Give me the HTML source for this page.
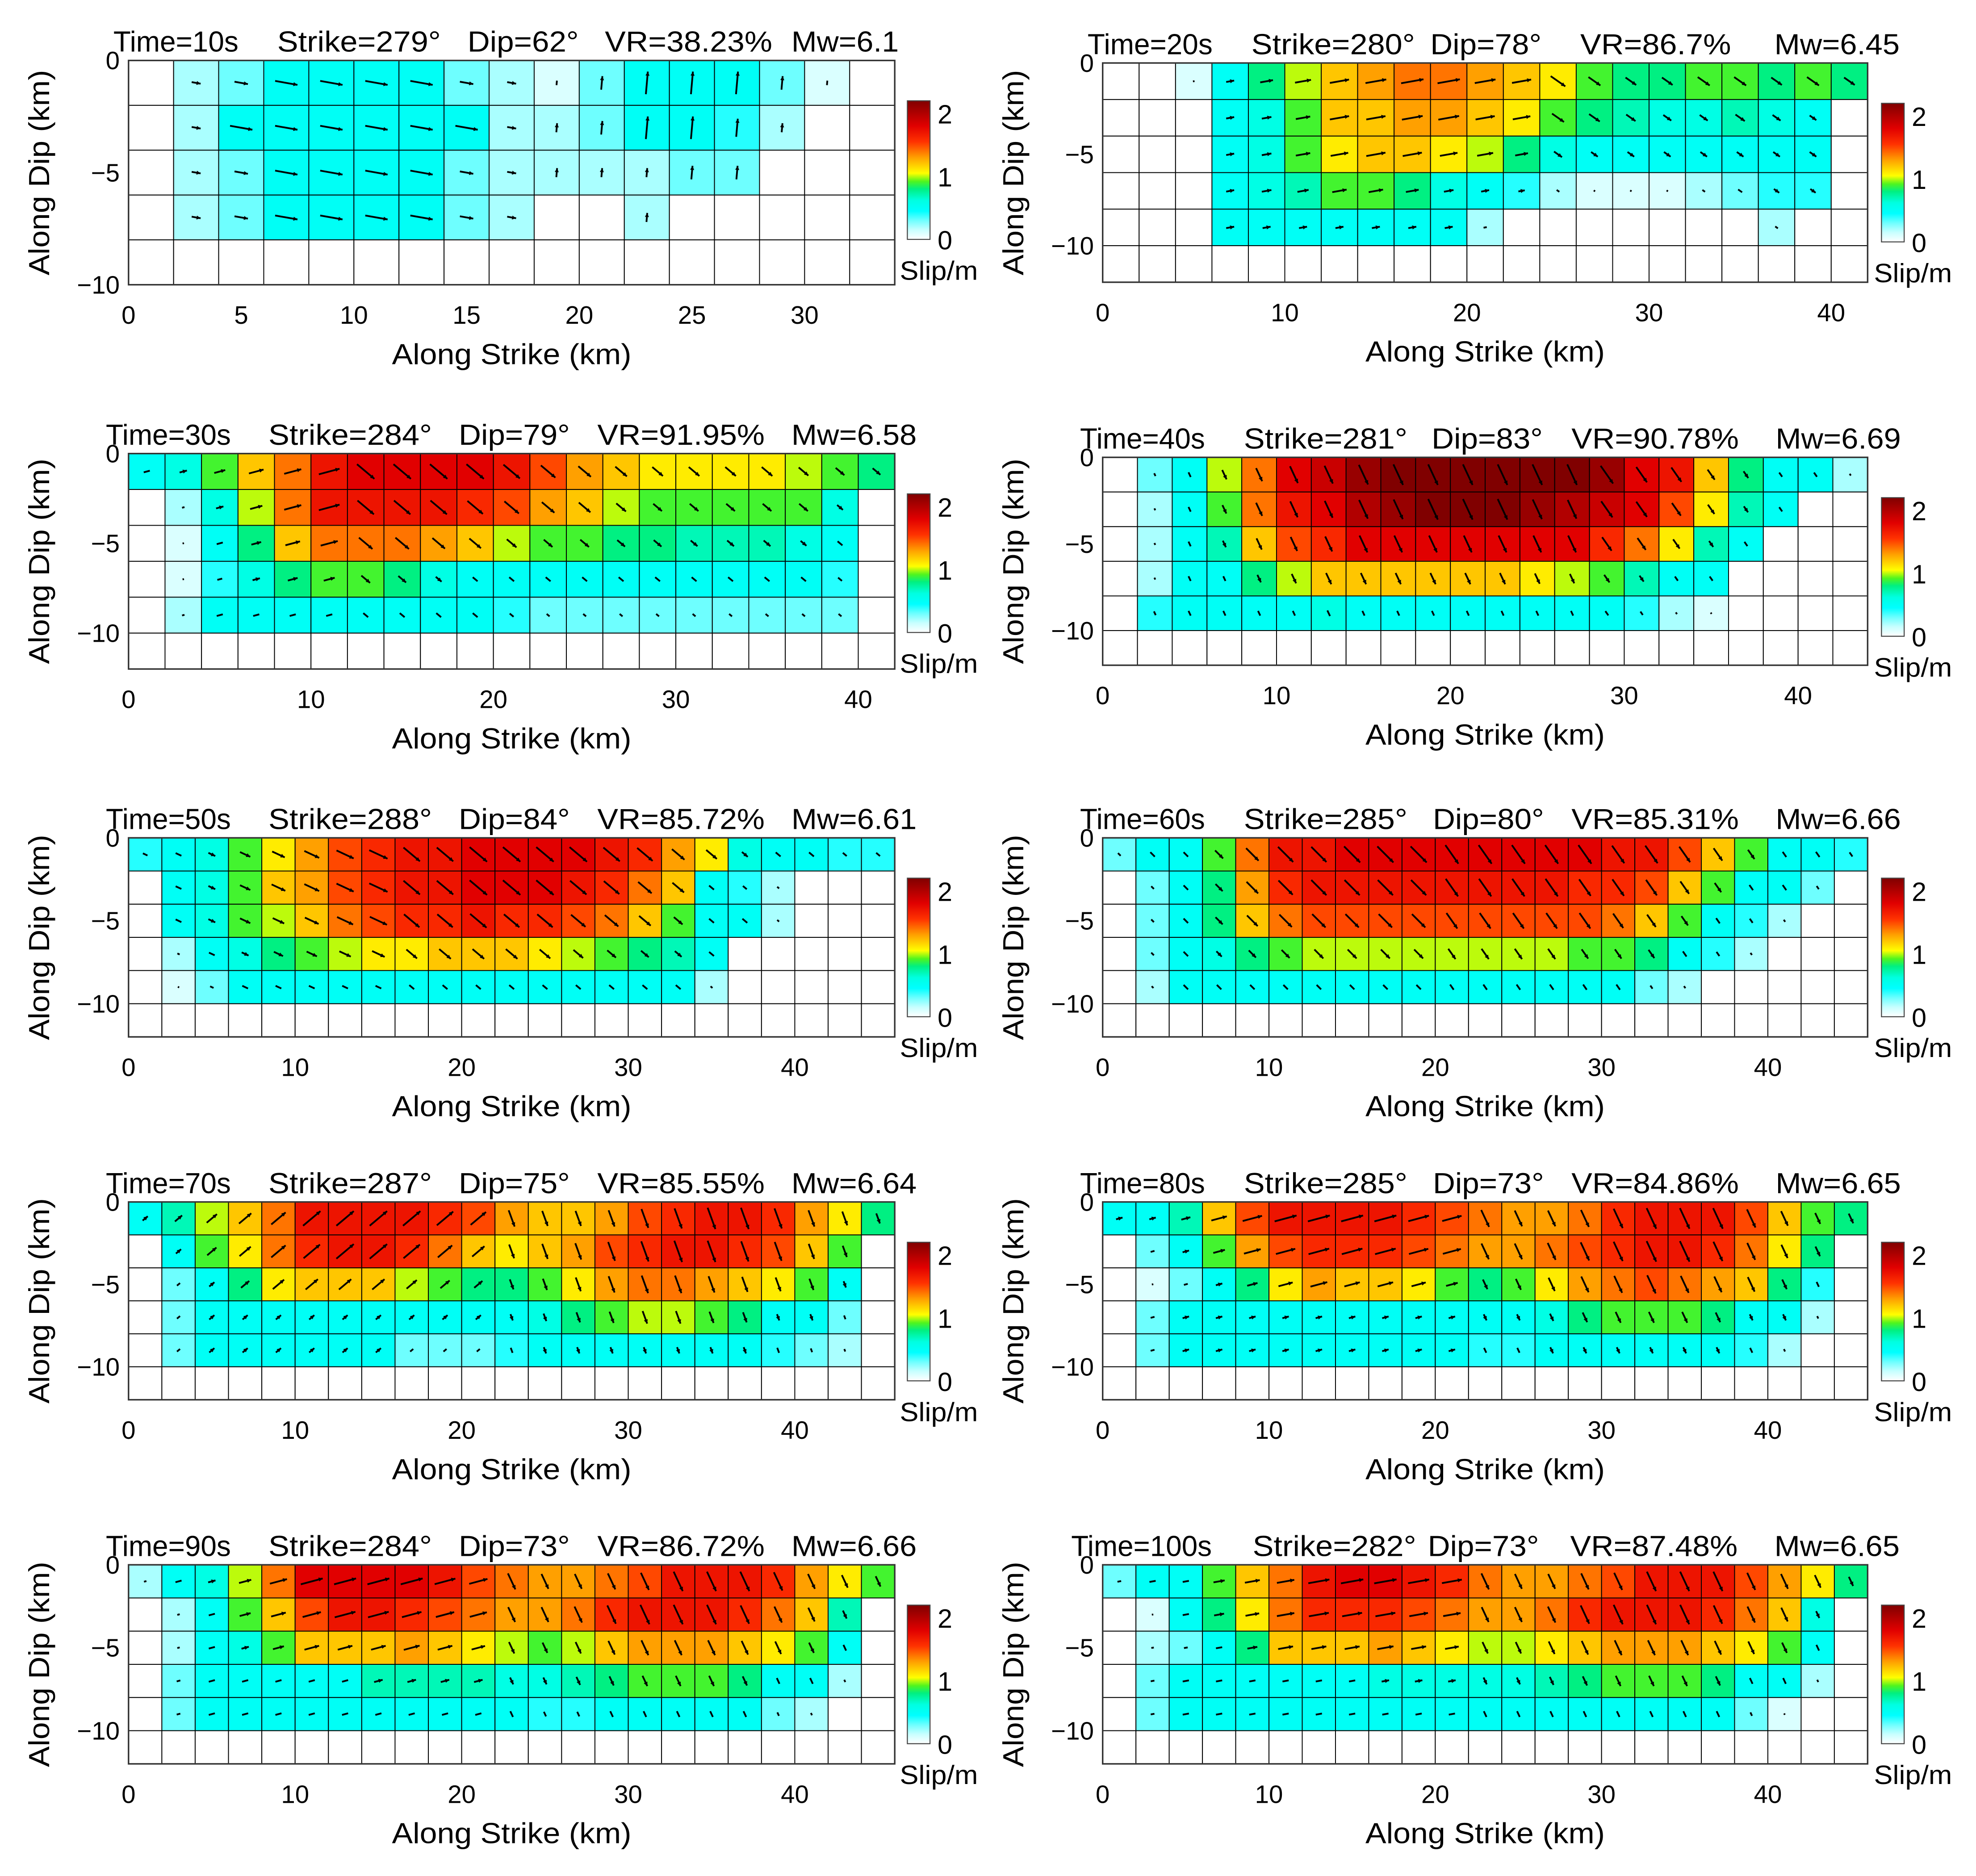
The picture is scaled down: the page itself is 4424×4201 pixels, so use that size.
<!DOCTYPE html>
<html><head><meta charset="utf-8"><style>
html,body{margin:0;padding:0;background:#fff}
svg{display:block}
text{font-family:"Liberation Sans","DejaVu Sans",sans-serif;fill:#000}
</style></head><body>
<svg id="fig" xmlns="http://www.w3.org/2000/svg" width="4424" height="4201" viewBox="0 0 1568 1489" preserveAspectRatio="none"></svg>
<script>
// ---- data: slip in tenths of metres, rows top (0 km) downward ----
const titles1 = ["Time=10s","Strike=279°","Dip=62°","VR=38.23%","Mw=6.1"];
const slip1 = [
[0,2,3,5,5,5,5,3,2,1,3,5,5,5,3,1,0],
[0,2,5,5,5,5,5,5,2,2,3,5,5,4,2,0,0],
[0,2,3,5,5,5,5,3,2,2,2,2,3,3,0,0,0],
[0,2,3,5,5,5,5,3,2,0,0,2,0,0,0,0,0],
[0,0,0,0,0,0,0,0,0,0,0,0,0,0,0,0,0]];
const rake1 = [-10, 85, 9];
const titles2 = ["Time=20s","Strike=280°","Dip=78°","VR=86.7%","Mw=6.45"];
const slip2 = [
[0,0,1,5,8,10,12,13,14,14,13,12,11,9,8,8,9,9,8,9,8],
[0,0,0,5,6,9,12,12,13,13,12,11,9,8,7,6,6,7,6,5,0],
[0,0,0,5,6,9,11,12,12,11,10,8,6,5,5,5,5,5,5,5,0],
[0,0,0,5,6,7,9,9,8,6,5,4,2,1,1,1,2,3,4,4,0],
[0,0,0,5,5,5,5,5,5,5,2,0,0,0,0,0,0,0,2,0,0],
[0,0,0,0,0,0,0,0,0,0,0,0,0,0,0,0,0,0,0,0,0]];
const rake2 = [10, -35, 12];
const titles3 = ["Time=30s","Strike=284°","Dip=79°","VR=91.95%","Mw=6.58"];
const slip3 = [
[5,6,9,12,14,17,18,18,18,18,17,15,13,12,11,11,11,11,10,9,8],
[0,2,6,10,14,17,17,17,17,16,15,13,12,10,9,9,9,9,9,6,0],
[0,1,5,8,12,14,14,14,13,12,10,9,9,8,8,7,7,7,6,5,0],
[0,1,4,6,8,9,9,8,6,5,5,5,5,5,5,5,5,5,5,4,0],
[0,2,5,5,5,5,5,5,5,5,4,3,3,3,3,3,3,3,3,3,0],
[0,0,0,0,0,0,0,0,0,0,0,0,0,0,0,0,0,0,0,0,0]];
const rake3 = [15, -40, 6];
const titles4 = ["Time=40s","Strike=281°","Dip=83°","VR=90.78%","Mw=6.69"];
const slip4 = [
[0,3,5,10,14,18,19,21,22,22,22,22,22,22,21,18,17,12,8,5,5,2],
[0,2,5,9,14,17,18,20,21,22,22,22,21,20,19,18,15,11,7,5,0,0],
[0,2,5,7,12,15,16,18,18,18,18,18,18,18,16,14,11,7,5,0,0,0],
[0,2,5,5,8,10,12,12,12,12,12,12,11,10,9,7,5,5,0,0,0,0],
[0,4,5,5,5,5,6,5,5,5,5,5,5,5,5,4,2,1,0,0,0,0],
[0,0,0,0,0,0,0,0,0,0,0,0,0,0,0,0,0,0,0,0,0,0]];
const rake4 = [-65, -55, 14];
const titles5 = ["Time=50s","Strike=288°","Dip=84°","VR=85.72%","Mw=6.61"];
const slip5 = [
[4,5,6,9,11,13,15,16,17,17,18,18,18,18,17,16,13,11,6,5,5,4,4],
[0,5,6,9,12,13,15,16,17,17,18,18,18,17,16,14,12,5,4,2,0,0,0],
[0,5,6,9,10,12,14,15,16,16,17,16,16,15,14,12,9,5,5,2,0,0,0],
[0,2,5,6,8,9,10,11,11,12,12,12,11,10,9,8,7,5,0,0,0,0,0],
[0,1,3,5,5,5,5,5,5,5,5,5,5,5,5,5,5,2,0,0,0,0,0],
[0,0,0,0,0,0,0,0,0,0,0,0,0,0,0,0,0,0,0,0,0,0,0]];
const rake5 = [-25, -40, 8];
const titles6 = ["Time=60s","Strike=285°","Dip=80°","VR=85.31%","Mw=6.66"];
const slip6 = [
[3,5,5,9,14,17,17,18,18,18,18,18,18,18,18,17,17,15,12,9,5,5,4],
[0,3,5,8,13,16,17,17,17,17,17,17,17,17,16,16,15,12,9,5,5,3,0],
[0,3,5,8,12,14,15,15,15,15,15,15,15,15,15,14,12,9,5,4,2,0,0],
[0,3,5,6,8,9,10,10,10,10,10,10,10,10,9,9,8,5,4,2,0,0,0],
[0,2,5,5,5,5,5,5,5,5,5,5,5,5,5,5,3,2,0,0,0,0,0],
[0,0,0,0,0,0,0,0,0,0,0,0,0,0,0,0,0,0,0,0,0,0,0]];
const rake6 = [-45, -55, 10];
const titles7 = ["Time=70s","Strike=287°","Dip=75°","VR=85.55%","Mw=6.64"];
const slip7 = [
[5,7,10,12,14,17,17,17,17,16,15,13,12,12,13,15,16,17,17,16,13,11,8],
[0,5,9,11,14,16,17,17,16,14,12,11,12,13,15,16,17,17,16,15,12,9,0],
[0,3,5,8,11,12,12,12,10,9,8,8,9,11,13,14,14,13,12,11,9,5,0],
[0,3,5,5,5,5,5,5,5,5,5,5,6,8,9,10,10,9,8,5,5,3,0],
[0,3,5,5,5,5,5,5,3,3,3,4,5,5,5,5,5,5,5,4,3,2,0],
[0,0,0,0,0,0,0,0,0,0,0,0,0,0,0,0,0,0,0,0,0,0,0]];
const rake7 = [40, -70, 11];
const titles8 = ["Time=80s","Strike=285°","Dip=73°","VR=84.86%","Mw=6.65"];
const slip8 = [
[5,5,7,12,15,17,17,17,17,16,15,14,13,13,14,16,17,17,17,15,12,9,8],
[0,3,5,9,13,15,16,16,16,15,14,13,13,14,15,16,17,17,16,14,11,8,0],
[0,1,3,5,8,11,13,12,12,11,9,8,9,11,13,14,15,14,13,12,8,4,0],
[0,3,5,5,5,5,5,5,5,5,5,5,5,6,8,9,9,9,8,5,5,2,0],
[0,3,5,5,5,5,5,5,5,5,5,4,4,5,5,5,5,5,5,4,2,0,0],
[0,0,0,0,0,0,0,0,0,0,0,0,0,0,0,0,0,0,0,0,0,0,0]];
const rake8 = [15, -65, 11];
const titles9 = ["Time=90s","Strike=284°","Dip=73°","VR=86.72%","Mw=6.66"];
const slip9 = [
[2,5,6,10,14,18,18,18,18,17,15,14,13,13,14,15,17,17,17,16,13,11,9],
[0,2,5,9,12,15,17,17,16,15,14,13,13,14,16,17,17,17,16,14,12,7,0],
[0,2,5,6,9,12,12,12,13,12,11,10,9,10,12,13,13,13,12,11,9,5,0],
[0,3,5,5,5,5,5,7,7,7,7,6,6,7,8,9,9,9,8,5,5,2,0],
[0,3,5,5,5,5,5,5,5,5,5,5,4,4,5,5,5,5,5,3,2,0,0],
[0,0,0,0,0,0,0,0,0,0,0,0,0,0,0,0,0,0,0,0,0,0,0]];
const rake9 = [15, -65, 11];
const titles10 = ["Time=100s","Strike=282°","Dip=73°","VR=87.48%","Mw=6.65"];
const slip10 = [
[3,5,5,9,12,14,17,18,18,17,16,14,13,13,14,15,17,17,17,15,13,11,8],
[0,1,5,8,11,14,16,16,16,15,14,13,13,14,16,17,17,17,16,14,12,6,0],
[0,2,3,5,8,12,12,12,13,12,11,10,10,11,12,13,13,13,12,11,9,5,0],
[0,3,5,5,5,5,5,5,6,6,6,6,6,7,8,9,9,9,8,5,5,2,0],
[0,3,5,5,5,5,5,5,5,5,5,5,5,5,5,5,5,5,5,3,1,0,0],
[0,0,0,0,0,0,0,0,0,0,0,0,0,0,0,0,0,0,0,0,0,0,0]];
const rake10 = [10, -65, 11];
const xTicks1 = [0,5,10,15,20,25,30];
const xTicksN = [0,10,20,30,40];
const yTicks = [0,-5,-10];
const cbTicks = [0,1,2];

const NS="http://www.w3.org/2000/svg";
const svg=document.getElementById('fig');
function el(tag,attrs,parent){const e=document.createElementNS(NS,tag);for(const k in attrs)e.setAttribute(k,attrs[k]);(parent||svg).appendChild(e);return e;}
const panels=[
 {t:titles1,s:slip1,r:rake1,xt:xTicks1,x0:102,x1:710,km:34,y0:48,y1:226,dkm:10,tx:[90,220,371,480,628]},
 {t:titles2,s:slip2,r:rake2,xt:xTicksN,x0:875,x1:1482,km:42,y0:50,y1:224,dkm:12,tx:[863,993,1135,1254,1408]},
 {t:titles3,s:slip3,r:rake3,xt:xTicksN,x0:102,x1:710,km:42,y0:360,y1:531,dkm:12,tx:[84,213,364,474,628]},
 {t:titles4,s:slip4,r:rake4,xt:xTicksN,x0:875,x1:1482,km:44,y0:363,y1:528,dkm:12,tx:[857,987,1136,1247,1409]},
 {t:titles5,s:slip5,r:rake5,xt:xTicksN,x0:102,x1:710,km:46,y0:665,y1:823,dkm:12,tx:[84,213,364,474,628]},
 {t:titles6,s:slip6,r:rake6,xt:xTicksN,x0:875,x1:1482,km:46,y0:665,y1:823,dkm:12,tx:[857,987,1137,1247,1409]},
 {t:titles7,s:slip7,r:rake7,xt:xTicksN,x0:102,x1:710,km:46,y0:954,y1:1111,dkm:12,tx:[84,213,364,474,628]},
 {t:titles8,s:slip8,r:rake8,xt:xTicksN,x0:875,x1:1482,km:46,y0:954,y1:1111,dkm:12,tx:[857,987,1137,1247,1409]},
 {t:titles9,s:slip9,r:rake9,xt:xTicksN,x0:102,x1:710,km:46,y0:1242,y1:1400,dkm:12,tx:[84,213,364,474,628]},
 {t:titles10,s:slip10,r:rake10,xt:xTicksN,x0:875,x1:1482,km:46,y0:1242,y1:1400,dkm:12,tx:[850,994,1133,1246,1408]}
];
const stops=[[0,[255,255,255]],[0.15,[200,255,255]],[0.3,[110,255,255]],[0.45,[0,255,255]],[0.62,[0,255,225]],[0.8,[0,240,130]],[0.92,[80,245,30]],[1.05,[255,255,0]],[1.3,[255,160,0]],[1.55,[255,50,0]],[1.8,[225,0,0]],[2.2,[128,0,0]]];
function cmap(v){if(v<=0)return'rgb(255,255,255)';for(let i=1;i<stops.length;i++){if(v<=stops[i][0]){const a=stops[i-1],b=stops[i];const f=(v-a[0])/(b[0]-a[0]);const c=a[1].map((x,j)=>Math.round(x+(b[1][j]-x)*f));return'rgb('+c+')';}}return'rgb(128,0,0)';}
const perChar=[12.4,11.8,12.6,13.2,14.2];

panels.forEach((p,pi)=>{
  const g=el('g',{});
  
  
  const sx=km=>p.x0+km*(p.x1-p.x0)/p.km;
  const sy=d=>p.y0+(-d)*(p.y1-p.y0)/p.dkm;
  let maxv=0;p.s.forEach(r=>r.forEach(v=>{if(v>maxv)maxv=v;}));
  const cg=el('g',{},g);
  p.s.forEach((row,ri)=>row.forEach((v,ci)=>{
    const x=sx(ci*2),y=sy(-ri*2),w=sx((ci+1)*2)-x,h=sy(-(ri+1)*2)-y;
    const c=el('rect',{x:x,y:y,width:w,height:h,fill:cmap(v/10),stroke:'#000','stroke-width':0.7},cg);
    
    
  }));
  p.s.forEach((row,ri)=>row.forEach((v,ci)=>{
    if(v<=0)return;
    const rk=(ci<p.r[2]?p.r[0]:p.r[1])*Math.PI/180;
    const cx=sx(ci*2+1),cy=sy(-ri*2-1);
    const L=Math.max(1.2,18*v/maxv);
    const dx=Math.cos(rk)*L/2,dy=-Math.sin(rk)*L/2;
    const a=el('line',{x1:cx-dx,y1:cy-dy,x2:cx+dx,y2:cy+dy,stroke:'#000','stroke-width':1.4},g);
    
    
    if(L>5){const hx=cx+dx,hy=cy+dy,ux=dx/(L/2),uy=dy/(L/2),hl=3.2;
      el('polygon',{points:`${hx},${hy} ${hx-ux*hl-uy*1.6},${hy-uy*hl+ux*1.6} ${hx-ux*hl+uy*1.6},${hy-uy*hl-ux*1.6}`,fill:'#000'},g);}
  }));
  el('rect',{x:p.x0,y:p.y0,width:p.x1-p.x0,height:p.y1-p.y0,fill:'none',stroke:'#333','stroke-width':1.2},g);
  p.t.forEach((s,i)=>{
    const L=s.length*perChar[i]+(s.indexOf('%')>=0?14:0);
    const t=el('text',{x:p.tx[i],y:p.y0-7,'font-size':23,textLength:L,lengthAdjust:'spacingAndGlyphs'},g);t.textContent=s;
    
    });
  p.xt.forEach(v=>{const t=el('text',{x:sx(v),y:p.y1+31,'font-size':20,'text-anchor':'middle'},g);t.textContent=v;
    
    });
  yTicks.forEach(v=>{const t=el('text',{x:p.x0-7,y:sy(v)+7,'font-size':20,'text-anchor':'end'},g);t.textContent=(v<0?'\u2212'+(-v):v);
    
    });
  const xl=el('text',{x:(p.x0+p.x1)/2,y:p.y1+63,'font-size':23,'text-anchor':'middle',textLength:190,lengthAdjust:'spacingAndGlyphs'},g);xl.textContent='Along Strike (km)';
  
  
  const ymx=p.x0-63,ymy=(p.y0+p.y1)/2;
  const yl=el('text',{x:ymx,y:ymy,'font-size':23,'text-anchor':'middle',textLength:163,lengthAdjust:'spacingAndGlyphs',transform:`rotate(-90 ${ymx} ${ymy})`},g);yl.textContent='Along Dip (km)';
  
  
  const cbx=p.x0>500?1493:720,cbw=18,cbt=p.y0+32,cbb=cbt+110;
  const gid='cbg'+pi;const defs=el('defs',{},g);const lg=el('linearGradient',{id:gid,x1:0,y1:1,x2:0,y2:0},defs);
  stops.forEach(s=>el('stop',{offset:s[0]/2.2,'stop-color':'rgb('+s[1]+')'},lg));
  const cb=el('rect',{x:cbx,y:cbt,width:cbw,height:cbb-cbt,fill:`url(#${gid})`,stroke:'#444','stroke-width':0.8},g);
  
  
  cbTicks.forEach(v=>{const t=el('text',{x:cbx+24,y:cbb-v*(cbb-cbt)/2.2+8,'font-size':21},g);t.textContent=v;
    
    });
  const cl=el('text',{x:cbx-6,y:cbb+32,'font-size':21,textLength:62,lengthAdjust:'spacingAndGlyphs'},g);cl.textContent='Slip/m';
  
  
});
</script>
</body></html>
